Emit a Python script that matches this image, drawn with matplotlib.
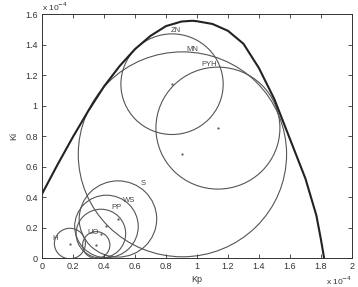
import matplotlib
matplotlib.use("Agg")
import matplotlib.pyplot as plt
from matplotlib.patches import Circle

plt.rcParams['font.family'] = ['Liberation Sans', 'DejaVu Sans']

# Stability boundary (Kp, Ki) in units of 1e-4
boundary_kp = [0.0, 0.1, 0.2, 0.3, 0.4, 0.5, 0.6, 0.7, 0.8, 0.9, 0.97,
               1.0, 1.1, 1.2, 1.3, 1.4, 1.5, 1.6, 1.7, 1.77, 1.8, 1.82]
boundary_ki = [0.42, 0.612, 0.795, 0.967, 1.125, 1.258, 1.37, 1.457, 1.521, 1.551, 1.556,
               1.553, 1.535, 1.49, 1.405, 1.245, 1.04, 0.78, 0.52, 0.28, 0.12, 0.0]

# Tuning-method circles: label, centre Kp, centre Ki, radius
labels = ['H', 'UO', 'PP', 'WS', 'S', 'ZN', 'MN', 'PYH']
center_kp = [0.18, 0.35, 0.38, 0.416, 0.49, 0.839, 0.906, 1.135]
center_ki = [0.095, 0.085, 0.16, 0.207, 0.256, 1.14, 0.68, 0.852]
radius = [0.10, 0.088, 0.16, 0.205, 0.25, 0.33, 0.672, 0.40]
label_kp = [0.085, 0.33, 0.48, 0.56, 0.65, 0.865, 0.97, 1.08]
label_ki = [0.13, 0.17, 0.33, 0.38, 0.49, 1.49, 1.37, 1.27]

xticks = [0, 0.2, 0.4, 0.6, 0.8, 1, 1.2, 1.4, 1.6, 1.8, 2]
xticklabels = ['0', '0.2', '0.4', '0.6', '0.8', '1', '1.2', '1.4', '1.6', '1.8', '2']
yticks = [0, 0.2, 0.4, 0.6, 0.8, 1, 1.2, 1.4, 1.6]
yticklabels = ['0', '0.2', '0.4', '0.6', '0.8', '1', '1.2', '1.4', '1.6']

fig = plt.figure(figsize=(3.58, 2.87), dpi=100)
ax = fig.add_axes([0.1173, 0.101, 0.8659, 0.850])

ax.plot(boundary_kp, boundary_ki, color='#222222', lw=1.5, solid_joinstyle='round')
for lab, cx, cy, r, lx, ly in zip(labels, center_kp, center_ki, radius, label_kp, label_ki):
    ax.add_patch(Circle((cx, cy), r, fill=False, edgecolor='#555555', lw=0.8))
    ax.plot([cx], [cy], marker='.', ms=1.2, color='#555555')
    ax.text(lx, ly, lab, fontsize=5.5, color='#444444', ha='center', va='center')

ax.set_xlim(0, 2)
ax.set_ylim(0, 1.6)
ax.set_xticks(xticks)
ax.set_xticklabels(xticklabels)
ax.set_yticks(yticks)
ax.set_yticklabels(yticklabels)
ax.tick_params(direction='in', top=True, right=True, length=3, width=0.6,
               labelsize=6.5, colors='#333333', pad=3)
for s in ax.spines.values():
    s.set_linewidth(0.7)
    s.set_color('#333333')

ax.set_xlabel('Kp', fontsize=6.5, color='#333333', labelpad=3)
ax.set_ylabel('Ki', fontsize=6.5, color='#333333', labelpad=5)
ax.text(0.0, 1.005, r'x 10$^{-4}$', transform=ax.transAxes, fontsize=6,
        color='#333333', ha='left', va='bottom')
ax.text(1.0, -0.07, r'x 10$^{-4}$', transform=ax.transAxes, fontsize=6,
        color='#333333', ha='right', va='top')

fig.savefig('out.png', dpi=100)
